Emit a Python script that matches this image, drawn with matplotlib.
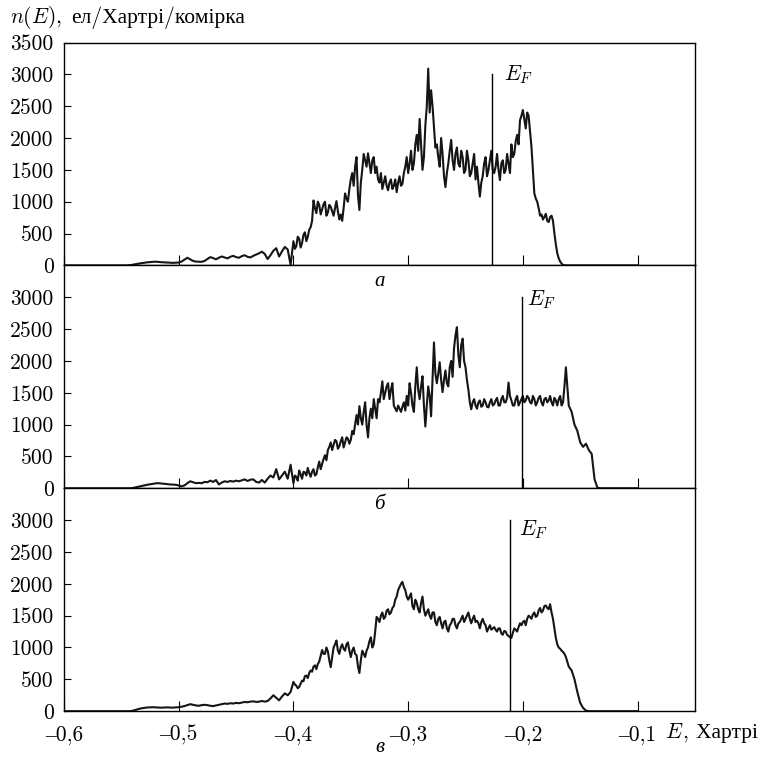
import numpy as np
import matplotlib.pyplot as plt

plt.rcParams['font.family'] = ['cmr10', 'Liberation Serif']
plt.rcParams['mathtext.fontset'] = 'cm'
plt.rcParams['axes.unicode_minus'] = False

# енергетична сітка: від -0.55 з кроком 0.0025 Хартрі
e_start = -0.55
e_step = 0.0025
# проміжні точки (посередині кроку) у шумній ділянці, починаючи з індексу 60 (E = -0.4)
mid_first = 60

# n(E) для трьох випадків (а, б, в)
n_a = [0, 0, 0, 5, 10, 20, 28, 35, 42, 48,
       52, 56, 58, 55, 50, 48, 45, 42, 40, 42,
       45, 60, 90, 120, 95, 70, 60, 58, 56, 70,
       100, 130, 115, 95, 120, 140, 125, 110, 135, 150,
       130, 120, 145, 160, 135, 125, 150, 170, 190, 215,
       180, 100, 160, 230, 270, 140, 220, 290, 250, 10,
       380, 300, 420, 350, 520, 450, 600, 1020, 820, 950,
       880, 1000, 830, 920, 780, 1010, 720, 700, 1130, 1000,
       1350, 1250, 1700, 870, 1500, 1650, 1760, 1450, 1700, 1550,
       1300, 1200, 1400, 1180, 1350, 1250, 1150, 1400, 1280, 1550,
       1450, 1800, 1600, 2050, 2300, 1500, 2200, 3090, 2750, 2170,
       1900, 1550, 1750, 1230, 1600, 1970, 1500, 1850, 1550, 1700,
       1500, 1650, 1450, 1750, 1550, 1080, 1400, 1700, 1500, 1800,
       1450, 1750, 1340, 1650, 1500, 1600, 1900, 1750, 2050, 2280,
       2440, 2150, 2350, 1860, 1130, 1000, 780, 720, 810, 680,
       780, 500, 190, 60, 5, 0, 0, 0, 0, 0,
       0, 0, 0, 0, 0, 0, 0, 0, 0, 0]
n_a_mid = [260, 450, 280, 480, 380, 560, 700, 900, 1000, 800,
           960, 780, 950, 850, 900, 850, 800, 900, 1050, 1200,
           1450, 1550, 1100, 1300, 1750, 1550, 1600, 1650, 1450, 1350,
           1450, 1300, 1250, 1300, 1200, 1350, 1300, 1250, 1450, 1700,
           1600, 1500, 1900, 1800, 1900, 1700, 2500, 2400, 2500, 1850,
           1700, 2000, 1400, 1450, 1800, 1650, 1750, 1600, 1800, 1450,
           1800, 1400, 1600, 1350, 1300, 1300, 1600, 1400, 1650, 1500,
           1550, 1500, 1600, 1450, 1750, 1450, 1700, 1950, 1900, 2350,
           2300, 2400, 2100, 1500, 1050, 900, 800, 760, 700, 760,
           700, 330, 110, 30, 2]

n_b = [0, 0, 0, 0, 5, 15, 25, 35, 45, 55,
       62, 70, 78, 80, 75, 70, 65, 60, 57, 55,
       45, 30, 45, 80, 110, 95, 80, 85, 80, 100,
       95, 120, 100, 130, 60, 90, 110, 100, 115, 105,
       120, 110, 125, 140, 115, 135, 140, 100, 90, 130,
       90, 150, 200, 170, 300, 140, 200, 260, 150, 370,
       80, 180, 280, 150, 250, 320, 180, 300, 220, 420,
       380, 520, 600, 720, 680, 740, 660, 800, 720, 780,
       760, 850, 1150, 1290, 1000, 1350, 800, 1250, 1400, 1100,
       1350, 1680, 1500, 1650, 1550, 1300, 1210, 1250, 1280, 1220,
       1300, 1500, 1200, 1900, 1400, 1760, 970, 1600, 1130, 2290,
       1650, 1980, 1510, 1850, 1600, 2000, 2200, 2530, 1900, 2350,
       1900, 1550, 1240, 1400, 1250, 1380, 1300, 1350, 1270, 1400,
       1320, 1420, 1300, 1450, 1350, 1660, 1380, 1300, 1450, 1350,
       1450, 1380, 1420, 1330, 1400, 1350, 1450, 1300, 1420, 1380,
       1350, 1420, 1300, 1450, 1350, 1900, 1300, 1200, 1000, 900,
       720, 650, 700, 600, 540, 140, 10, 0, 0, 0]
n_b_mid = [200, 120, 220, 260, 200, 240, 260, 200, 330, 300,
           460, 440, 650, 600, 760, 620, 740, 640, 800, 700,
           900, 1000, 1000, 1100, 1200, 1000, 1100, 1100, 1250, 1400,
           1500, 1400, 1600, 1400, 1650, 1250, 1300, 1200, 1350, 1450,
           1650, 1300, 1600, 1550, 1600, 1300, 1300, 1450, 1700, 1800,
           1800, 1700, 1700, 1650, 1900, 1750, 2400, 2100, 2250, 2000,
           1700, 1350, 1350, 1300, 1350, 1280, 1400, 1280, 1350, 1300,
           1380, 1300, 1400, 1350, 1420, 1450, 1300, 1400, 1300, 1400,
           1350, 1450, 1350, 1450, 1300, 1420, 1350, 1400, 1350, 1450,
           1300, 1380, 1400, 1300, 1600]

n_c = [0, 0, 0, 0, 8, 20, 35, 45, 52, 58,
       60, 62, 60, 58, 55, 57, 60, 58, 55, 60,
       62, 70, 80, 95, 110, 100, 90, 85, 95, 100,
       95, 85, 80, 90, 100, 110, 120, 115, 125, 120,
       130, 125, 135, 145, 140, 150, 155, 145, 150, 160,
       150, 160, 200, 250, 210, 170, 230, 280, 250, 300,
       460, 400, 380, 480, 550, 520, 640, 700, 660, 780,
       960, 900, 940, 690, 1000, 1110, 900, 1050, 950, 1080,
       850, 1000, 880, 600, 950, 850, 1000, 1160, 1050, 1480,
       1400, 1550, 1480, 1600, 1550, 1650, 1800, 1950, 2030, 1900,
       1750, 1850, 1600, 1700, 1550, 1800, 1500, 1600, 1450, 1550,
       1350, 1480, 1300, 1420, 1250, 1380, 1450, 1300, 1400, 1500,
       1450, 1550, 1380, 1500, 1420, 1300, 1450, 1350, 1300, 1280,
       1320, 1250, 1300, 1200, 1250, 1180, 1150, 1300, 1250, 1380,
       1400, 1350, 1500, 1450, 1550, 1500, 1620, 1580, 1660, 1600,
       1550, 1300, 1050, 980, 930, 850, 700, 640, 500, 300,
       130, 50, 10, 0, 0, 0, 0, 0, 0, 0]
n_c_mid = [420, 360, 430, 470, 560, 600, 620, 720, 740, 870,
           900, 1000, 800, 850, 1050, 950, 1000, 980, 1050, 950,
           950, 900, 700, 800, 900, 950, 1100, 1000, 1250, 1450,
           1500, 1450, 1580, 1520, 1620, 1750, 1900, 2000, 1950, 1800,
           1800, 1650, 1750, 1600, 1700, 1600, 1550, 1500, 1550, 1400,
           1450, 1380, 1400, 1300, 1350, 1450, 1350, 1380, 1450, 1400,
           1500, 1450, 1450, 1400, 1380, 1400, 1380, 1250, 1350, 1300,
           1280, 1300, 1220, 1260, 1200, 1160, 1230, 1280, 1320, 1350,
           1420, 1450, 1480, 1520, 1480, 1580, 1550, 1650, 1620, 1680,
           1450, 1150, 1000, 950, 900]

# рівні Фермі
e_fermi = [-0.2267, -0.201, -0.2108]
panel_names = ['а', 'б', 'в']

x_ticks = [-0.6, -0.5, -0.4, -0.3, -0.2, -0.1]
x_labels = ['–0,6', '–0,5', '–0,4', '–0,3', '–0,2', '–0,1']

# положення підписів E_F (зсув по E, висота базової лінії)
ef_dx = [0.010, 0.005, 0.007]
ef_y = [2910, 2870, 2760]

fig, axes = plt.subplots(3, 1, figsize=(7.62, 7.59), dpi=100)
fig.subplots_adjust(left=0.084, right=0.912, top=0.944, bottom=0.063, hspace=0)

series = [(n_a, n_a_mid), (n_b, n_b_mid), (n_c, n_c_mid)]
for i, (ax, (n, nm)) in enumerate(zip(axes, series)):
    e_main = e_start + e_step * np.arange(len(n))
    e_mid = e_start + e_step * (mid_first + 0.5 + np.arange(len(nm)))
    e = np.concatenate([[-0.6], e_main, e_mid, [-0.1]])
    y = np.concatenate([[0], n, nm, [0]])
    order = np.argsort(e)
    ax.plot(e[order], y[order], color='#151515', lw=1.5)
    ax.plot([e_fermi[i], e_fermi[i]], [0, 3000], color='black', lw=1.0)
    ax.text(e_fermi[i] + ef_dx[i], ef_y[i], '$E_F$', fontsize=15.5, va='baseline')

    ax.set_xlim(-0.6, -0.05)
    ax.set_ylim(0, 3500)
    ax.set_xticks(x_ticks)
    if i == 2:
        ax.set_xticklabels(x_labels)
    else:
        ax.set_xticklabels([])
    if i == 0:
        ax.set_yticks(range(0, 3501, 500))
    else:
        ax.set_yticks(range(0, 3001, 500))
    ax.tick_params(axis='x', direction='in', length=7, width=0.8, labelsize=15.5, pad=10)
    ax.tick_params(axis='y', direction='in', length=5, width=0.8, labelsize=15.5, pad=7.5)
    for s in ax.spines.values():
        s.set_linewidth(1.0)

    yoff = -0.165 if i == 2 else -0.072
    fig.text(0.5, yoff, panel_names[i], transform=ax.transAxes, ha='center', va='center',
             fontsize=15, style='italic', family='Liberation Serif', zorder=5)

# підписи осей
t1 = fig.text(10 / 762, 1 - 23 / 759, '$n(E),$', fontsize=15.5, va='baseline')
t2 = fig.text(665 / 762, 1 - 738 / 759, '$E$', fontsize=15.5, va='baseline')
fig.canvas.draw()
r = fig.canvas.get_renderer()
b1 = t1.get_window_extent(r)
b2 = t2.get_window_extent(r)
fig.text(b1.x1 / fig.bbox.width + 0.012, 1 - 23 / 759, 'ел/Хартрі/комірка', fontsize=15.5, va='baseline')
fig.text(b2.x1 / fig.bbox.width, 1 - 738 / 759, ', Хартрі', fontsize=15.5, va='baseline')

plt.savefig('out.png', dpi=100)
